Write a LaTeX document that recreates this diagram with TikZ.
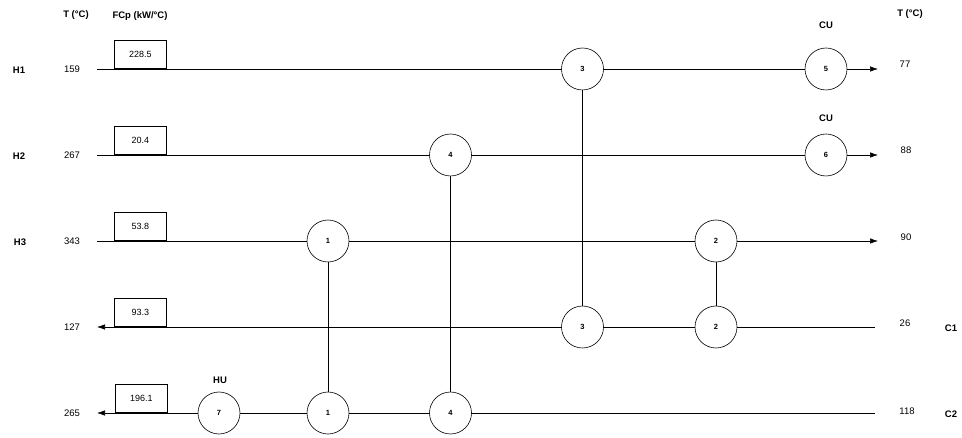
\documentclass[tikz,border=0pt]{standalone}
\usepackage{fontspec}
\setmainfont{Liberation Sans}
\usetikzlibrary{arrows.meta}
\begin{document}
\begin{tikzpicture}[x=1pt,y=-1pt,
  line width=0.6pt,
  hx/.style={circle,draw,fill=white,minimum size=42pt,inner sep=0pt,font=\fontsize{7.5}{8}\selectfont\bfseries},
  fbox/.style={draw,fill=white,minimum width=52pt,minimum height=28pt,anchor=south west,inner sep=0pt,font=\fontsize{9}{10}\selectfont},
  lab/.style={font=\fontsize{9.5}{10}\selectfont\bfseries},
  num/.style={font=\fontsize{9.5}{10}\selectfont},
  arr/.style={-{Latex[length=8pt,width=5.5pt]}}]
\useasboundingbox (0,0) rectangle (962,438);
% headers
\node[lab] (ht) at (76,15) {T (°C)};
\node[lab] (hf) at (140,16) {FCp (kW/°C)};
\node[lab] (hr) at (910,14) {T (°C)};
% stream labels
\node[lab] (lh1) at (19,70) {H1};
\node[lab] (lh2) at (19,156) {H2};
\node[lab] (lh3) at (20,242) {H3};
\node[lab] (lc1) at (951,328) {C1};
\node[lab] (lc2) at (951,414) {C2};
% left temperatures
\node[num] (t1) at (72,69) {159};
\node[num] (t2) at (72,155) {267};
\node[num] (t3) at (72,241) {343};
\node[num] (t4) at (72,327) {127};
\node[num] (t5) at (72,413) {265};
% right temperatures
\node[num] (r1) at (905,64) {77};
\node[num] (r2) at (906,150) {88};
\node[num] (r3) at (906,237) {90};
\node[num] (r4) at (905,323) {26};
\node[num] (r5) at (907,411) {118};
% stream ends
\coordinate (h1s) at (97,69);  \coordinate (h1e) at (878,69);
\coordinate (h2s) at (97,155); \coordinate (h2e) at (878,155);
\coordinate (h3s) at (97,241); \coordinate (h3e) at (878,241);
\coordinate (c1s) at (875,327); \coordinate (c1e) at (97,327);
\coordinate (c2s) at (875,413); \coordinate (c2e) at (97,413);
% streams
\draw[arr] (h1s) -- (h1e);
\draw[arr] (h2s) -- (h2e);
\draw[arr] (h3s) -- (h3e);
\draw[arr] (c1s) -- (c1e);
\draw[arr] (c2s) -- (c2e);
% FCp boxes
\node[fbox] (b1) at (114,69) {228.5};
\node[fbox] (b2) at (114,155) {20.4};
\node[fbox] (b3) at (114,241) {53.8};
\node[fbox] (b4) at (114,327) {93.3};
\node[fbox] (b5) at (115,413) {196.1};
% exchangers
\node[hx] (x3a) at (582.5,69) {3};
\node[hx] (x5) at (826,69) {5};
\node[hx] (x4a) at (450.5,155) {4};
\node[hx] (x6) at (826,155) {6};
\node[hx] (x1a) at (328,241) {1};
\node[hx] (x2a) at (716,241) {2};
\node[hx] (x3b) at (582.5,327) {3};
\node[hx] (x2b) at (716,327) {2};
\node[hx] (x7) at (219,413) {7};
\node[hx] (x1b) at (328,413) {1};
\node[hx] (x4b) at (450.5,413) {4};
% utility labels
\node[lab] (cu1) at (826,25) {CU};
\node[lab] (cu2) at (826,118) {CU};
\node[lab] (hu) at (220,380) {HU};
% matches
\draw (x3a) -- (x3b);
\draw (x4a) -- (x4b);
\draw (x1a) -- (x1b);
\draw (x2a) -- (x2b);
\end{tikzpicture}
\end{document}
